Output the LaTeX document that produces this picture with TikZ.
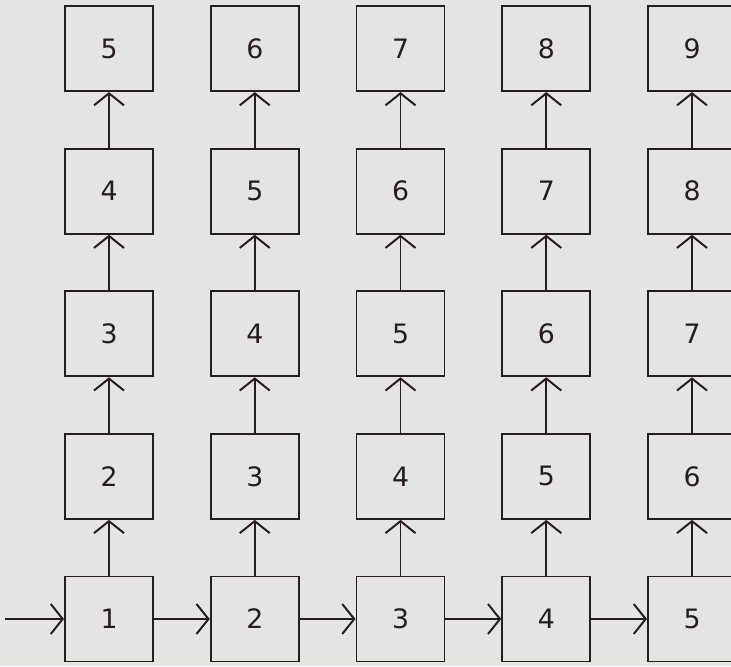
\documentclass[tikz,border=0pt]{standalone}
\usepackage{fontspec}
\setsansfont{DejaVu Sans}
\usepackage{tikz}
\usetikzlibrary{arrows.meta,positioning}
\definecolor{paper}{RGB}{228,228,226}
\definecolor{ink}{RGB}{38,30,30}

\begin{document}
\begin{tikzpicture}[
    x=0.025cm, y=0.025cm,
    font=\sffamily\fontsize{19}{19}\selectfont,
    cell/.style={draw=ink, line width=1.4pt, minimum width=2.2cm, minimum height=2.125cm, inner sep=0pt, text=ink},
    link/.style={draw=ink, line width=1.4pt, -{Straight Barb[length=3mm, width=7.5mm, line width=1.4pt]}}
]
\fill[paper] (0,0) rectangle (731,666);
\useasboundingbox (0,0) rectangle (731,666);
\clip (0,0) rectangle (731,666);

% grid of cells, column i, row j from the bottom
\foreach \i in {1,...,5} {
  \foreach \j in {1,...,5} {
    \pgfmathtruncatemacro{\val}{\i+\j-1}
    \node[cell] (c-\i-\j) at ({109+145.75*(\i-1)}, {47+142.6*(\j-1)}) {\val};
  }
}

% input
\coordinate (in) at (5,47);
\draw[link] (in) -- (c-1-1.west);

% bottom row, left to right
\foreach \i [evaluate=\i as \n using int(\i+1)] in {1,...,4}
  \draw[link] (c-\i-1.east) -- (c-\n-1.west);

% each column, upwards
\foreach \i in {1,...,5} {
  \foreach \j [evaluate=\j as \n using int(\j+1)] in {1,...,4}
    \draw[link] (c-\i-\j.north) -- (c-\i-\n.south);
}
\end{tikzpicture}
\end{document}
